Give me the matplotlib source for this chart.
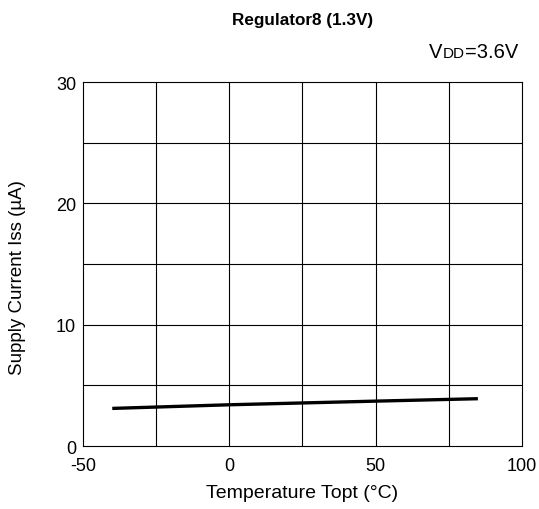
import matplotlib
matplotlib.use("Agg")
import matplotlib.pyplot as plt
import numpy as np

temps = [-40, -20, 0, 25, 50, 85]
iss = [3.1, 3.25, 3.4, 3.55, 3.7, 3.9]
xticks = [-50, 0, 50, 100]
yticks = [0, 10, 20, 30]

plt.rcParams['font.family'] = ['Liberation Sans', 'DejaVu Sans']
plt.rcParams['axes.unicode_minus'] = False

fig = plt.figure(figsize=(5.39, 5.10), dpi=100)
ax = fig.add_axes([0.154, 0.1235, 0.814, 0.7135])
ax.set_xlim(-50, 100)
ax.set_ylim(0, 30)
for xv in np.arange(-25, 100, 25):
    ax.axvline(xv, color='black', lw=0.8)
for yv in np.arange(5, 30, 5):
    ax.axhline(yv, color='black', lw=0.8)
ax.plot(temps, iss, color='black', lw=2.4, solid_capstyle='butt')
ax.set_xticks(xticks)
ax.set_yticks(yticks)
ax.tick_params(length=0, labelsize=13)
ax.tick_params(axis='x', pad=8)
ax.tick_params(axis='y', pad=5)
for s in ax.spines.values():
    s.set_linewidth(0.8)
ax.set_xlabel('Temperature Topt (°C)', fontsize=14, labelpad=7)
ax.set_ylabel('Supply Current Iss (µA)', fontsize=13.5)
ax.yaxis.set_label_coords(-0.13, 0.466)
fig.text(0.561, 1-20/510, 'Regulator8 (1.3V)', ha='center', va='center', fontsize=12.3, fontweight='bold')

# VDD=3.6V label with small DD
fig.canvas.draw()
r = fig.canvas.get_renderer()
yb = 1-58/510
t3 = fig.text(518/539, yb, '=3.6V', ha='right', va='baseline', fontsize=14.5)
bb = t3.get_window_extent(r)
t2 = fig.text(bb.x0/fig.bbox.width, yb, 'DD', ha='right', va='baseline', fontsize=11)
bb2 = t2.get_window_extent(r)
fig.text(bb2.x0/fig.bbox.width, yb, 'V', ha='right', va='baseline', fontsize=14.5)

fig.savefig('out.png', dpi=100)
